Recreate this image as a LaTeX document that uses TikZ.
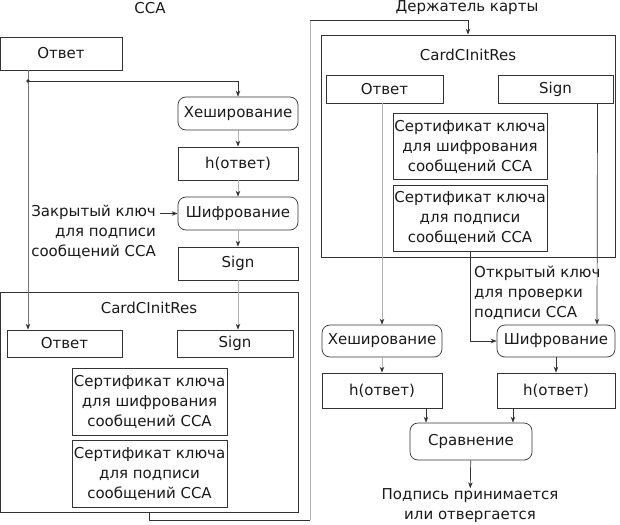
\documentclass[tikz,border=0pt]{standalone}
\usepackage{fontspec}
\setmainfont{DejaVu Sans}
\usetikzlibrary{arrows.meta,positioning}
\tikzset{
    line color/.style={black!80},
    faint color/.style={black!30},
    mid color/.style={black!55},
    box/.style={draw,line color,text=black!90,inner sep=0pt,align=center,line width=0.7pt},
    rbox/.style={box,rounded corners=8pt},
    lbl/.style={text=black!90,inner sep=0pt,align=center},
    arr/.style={-{Stealth[length=6pt,width=4.5pt]},line color,line width=0.7pt},
    farr/.style={-{Stealth[length=6pt,width=4.5pt,color=black!80]},faint color,line width=0.7pt},
    marr/.style={-{Stealth[length=6pt,width=4.5pt,color=black!80]},mid color,line width=0.7pt},
}
\tikzstyle{every node}=[font=\fontsize{15}{20}\selectfont]

\begin{document}
\begin{tikzpicture}[x=1pt,y=-1pt]
    \useasboundingbox (0,0) rectangle (620,524);
    % CCA
    \node[lbl] (ccaLbl) at (150,8) {CCA};
    \node[box,minimum width=122pt,minimum height=33pt] (otvetA) at (61,53.5) {Ответ};
    \coordinate (split) at (28,81);
    \node[rbox,minimum width=120pt,minimum height=33pt] (hashA) at (238,113.5) {Хеширование};
    \node[box,minimum width=120pt,minimum height=33pt] (hA) at (238,163.5) {h(ответ)};
    \node[rbox,minimum width=120pt,minimum height=33pt] (encA) at (238,213.5) {Шифрование};
    \node[box,minimum width=120pt,minimum height=33pt] (signA) at (238,263.5) {Sign};
    \node[lbl,anchor=east,align=right] (privKey) at (156,232) {Закрытый ключ\\для подписи\\сообщений CCA};

    \node[box,minimum width=298pt,minimum height=220pt] (resA) at (149,402) {};
    \node[lbl] (resAtitle) at (149,308) {CardCInitRes};
    \node[box,minimum width=115pt,minimum height=27pt] (otvetB) at (64.5,343.5) {Ответ};
    \node[box,minimum width=116pt,minimum height=27pt] (signB) at (235,343.5) {Sign};
    \node[box,minimum width=155pt,minimum height=67pt] (certB1) at (149.5,401.5) {Сертификат ключа\\для шифрования\\сообщений CCA};
    \node[box,minimum width=155pt,minimum height=67pt] (certB2) at (149.5,473.5) {Сертификат ключа\\для подписи\\сообщений CCA};

    \draw[marr] (otvetA.south -| split) -- (otvetB.north -| split);
    \draw[arr] (split) -| (hashA.north);
    \fill[line color] (split) circle (1.8pt);
    \draw[farr] (hashA) -- (hA);
    \draw[farr] (hA) -- (encA);
    \draw[farr] (encA) -- (signA);
    \draw[farr] (signA.south) -- (signA.south |- signB.north);
    \draw[arr] ([xshift=4pt]privKey.east |- encA.west) -- (encA.west);

    % transfer
    \coordinate (turnB) at (310,520);
    \coordinate (turnT) at (310,20);

    % Держатель карты
    \node[lbl] (holderLbl) at (467,8) {Держатель карты};
    \node[box,minimum width=294pt,minimum height=222pt] (resC) at (468,146) {};
    \node[lbl] (resCtitle) at (468,55) {CardCInitRes};
    \node[box,minimum width=117pt,minimum height=28pt] (otvetC) at (384.5,89) {Ответ};
    \node[box,minimum width=115pt,minimum height=28pt] (signC) at (555.5,89) {Sign};
    \node[box,minimum width=154pt,minimum height=66pt] (certC1) at (470,146.5) {Сертификат ключа\\для шифрования\\сообщений CCA};
    \node[box,minimum width=154pt,minimum height=66pt] (certC2) at (470,218) {Сертификат ключа\\для подписи\\сообщений CCA};
    \node[lbl,anchor=west,align=left] (pubKey) at (474,293) {Открытый ключ\\для проверки\\подписи CCA};

    \node[rbox,minimum width=120pt,minimum height=32pt] (hashC) at (382,341) {Хеширование};
    \node[rbox,minimum width=118pt,minimum height=32pt] (encC) at (556,341) {Шифрование};
    \node[box,minimum width=120pt,minimum height=35pt] (hC) at (382,390.5) {h(ответ)};
    \node[box,minimum width=118pt,minimum height=35pt] (hC2) at (556,390.5) {h(ответ)};
    \node[rbox,minimum width=122pt,minimum height=37pt] (cmp) at (471,441.5) {Сравнение};
    \node[lbl] (result) at (470,505.5) {Подпись принимается\\или отвергается};

    \draw[line color,line width=0.7pt] (resA.south) |- (turnB);
    \draw[faint color,line width=0.7pt] (turnB) -- (turnT);
    \draw[arr] (turnT) -| (resC.north);

    \draw[farr] (hashC.north |- otvetC.south) -- (hashC.north);
    \draw[arr] ([xshift=42pt]signC.south) -- ([xshift=41pt]encC.north);
    \draw[arr] (certC2.south) |- (encC.west);
    \draw[farr] (hashC) -- (hC);
    \draw[arr] (encC) -- (hC2);
    \draw[arr] ([xshift=44pt]hC.south) -- ([xshift=44pt]hC.south |- cmp.north);
    \draw[arr] ([xshift=-43pt]hC2.south) -- ([xshift=-43pt]hC2.south |- cmp.north);
    \draw[arr] (cmp) -- (result);
\end{tikzpicture}
\end{document}
